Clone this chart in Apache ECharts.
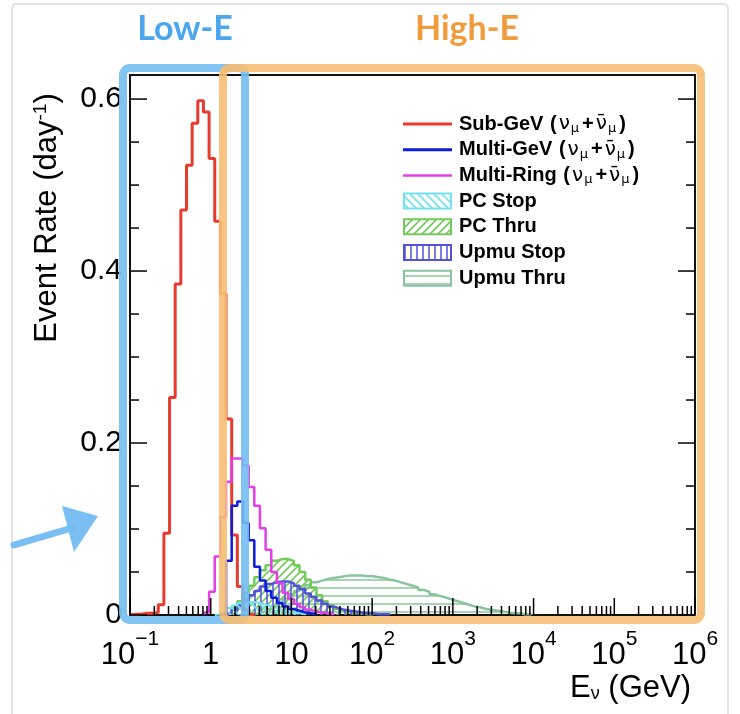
<!DOCTYPE html>
<html><head><meta charset="utf-8">
<script src="https://cdn.jsdelivr.net/npm/echarts@6/dist/echarts.min.js"></script>
<style>html,body{margin:0;padding:0;background:#fff;}#chart{width:740px;height:714px;}</style>
</head><body><div id="chart"></div>
<script>
// ---- axis / binning (log10 of E in GeV) ----
const LOG_MIN = -1, LOG_MAX = 6;
const BIN_W = 0.07;            // 100 log bins between 10^-1 and 10^6
const Y_MAX = 0.628;
const xTickLabels = [['10','\u22121'], ['1',''], ['10',''], ['10','2'], ['10','3'], ['10','4'], ['10','5'], ['10','6']];
const yTickValues = [0, 0.2, 0.4, 0.6];
const yTickLabels = ['0', '0.2', '0.4', '0.6'];

// ---- histograms: first bin index + bin contents (events / day) ----
const subGevStart = 0;
const subGevValues = [0.001,0.001,0.002,0.002,0.003,0.012,0.095,0.253,0.385,0.471,0.523,0.572,0.598,0.585,0.531,0.458,0.374,0.228,0.093,0.033,0.006,0.001];
const multiGevStart = 16;
const multiGevValues = [0.002,0.063,0.127,0.132,0.107,0.087,0.056,0.040,0.028,0.020,0.014,0.010,0.007,0.005,0.003,0.002,0.001];
const multiRingStart = 13;
const multiRingValues = [0.003,0.027,0.068,0.114,0.155,0.182,0.182,0.174,0.149,0.127,0.101,0.076,0.050,0.037,0.026,0.019,0.013,0.009,0.006,0.004,0.003,0.002,0.001];
const pcStopStart = 15;
const pcStopValues = [0.001,0.004,0.008,0.011,0.014,0.015,0.015,0.014,0.012,0.010,0.008,0.006,0.004,0.003,0.002,0.001];
const pcThruStart = 16;
const pcThruValues = [0.001,0.003,0.008,0.016,0.025,0.034,0.044,0.052,0.058,0.063,0.065,0.065,0.063,0.058,0.050,0.041,0.032,0.023,0.016,0.011,0.007,0.005,0.003,0.002,0.002,0.001,0.001];
const upmuStopStart = 17;
const upmuStopValues = [0.002,0.006,0.011,0.017,0.023,0.028,0.033,0.036,0.038,0.039,0.039,0.037,0.034,0.030,0.025,0.021,0.017,0.013,0.010,0.008,0.006,0.005,0.004,0.003,0.002,0.002,0.001,0.001,0.001];
const upmuThruStart = 21;
const upmuThruValues = [0.001,0.002,0.004,0.007,0.010,0.014,0.019,0.024,0.028,0.032,0.035,0.038,0.040,0.042,0.043,0.044,0.045,0.046,0.046,0.046,0.045,0.045,0.044,0.043,0.041,0.040,0.038,0.036,0.034,0.032,0.029,0.027,0.024,0.022,0.020,0.018,0.016,0.014,0.012,0.010,0.009,0.007,0.006,0.005,0.004,0.003,0.002,0.002,0.001,0.001];

const legendNames = ['Sub-GeV', 'Multi-GeV', 'Multi-Ring', 'PC Stop', 'PC Thru', 'Upmu Stop', 'Upmu Thru'];

// ---- styles ----
const FONT = "'Liberation Sans', Arial, Helvetica, sans-serif";
const C = {
  red:'#e63b2e', blue:'#0c1de0', magenta:'#e23fe8', cyan:'#72e3ee',
  green:'#72cb58', upStop:'#5353d6', upThru:'#8cc39f'
};

function hatch(color, kind, s, lw) {
  const c = document.createElement('canvas'); c.width = s; c.height = s;
  const g = c.getContext('2d'); g.strokeStyle = color; g.lineWidth = lw; g.beginPath();
  if (kind === '/') { g.moveTo(0,s); g.lineTo(s,0); g.moveTo(-1,1); g.lineTo(1,-1); g.moveTo(s-1,s+1); g.lineTo(s+1,s-1); }
  else if (kind === '\\') { g.moveTo(0,0); g.lineTo(s,s); g.moveTo(s-1,-1); g.lineTo(s+1,1); g.moveTo(-1,s-1); g.lineTo(1,s+1); }
  else if (kind === '|') { g.moveTo(s/2,0); g.lineTo(s/2,s); }
  else { g.moveTo(0,s/2); g.lineTo(s,s/2); }
  g.stroke();
  return { image: c, repeat: 'repeat' };
}
const P = {
  pcStop: hatch(C.cyan, '\\', 8, 1.6),
  pcThru: hatch(C.green, '/', 8, 1.6),
  upStop: hatch(C.upStop, '|', 6, 1.5),
  upThru: hatch(C.upThru, '-', 8, 1.5)
};

function histPoints(start, values) {
  const pts = [[LOG_MIN + start * BIN_W, 0]];
  values.forEach((v, i) => pts.push([LOG_MIN + (start + i) * BIN_W, v]));
  pts.push([LOG_MIN + (start + values.length) * BIN_W, 0]);
  return pts;
}
function histSeries(name, start, values, color, width, fill, z) {
  const s = { name, type:'line', step:'end', data: histPoints(start, values), symbol:'none',
    lineStyle:{ color, width }, itemStyle:{color}, z, animation:false, silent:true };
  if (fill) s.areaStyle = { color: fill, opacity: 1 };
  return s;
}

// tick positions for the log x axis and the linear y axis
const xMajor = []; for (let n = LOG_MIN; n <= LOG_MAX; n++) xMajor.push([n, 0, 1]);
const xMinor = []; for (let n = LOG_MIN; n < LOG_MAX; n++) for (let m = 2; m <= 9; m++) xMinor.push([n + Math.log10(m), 0, 0]);
const yTicks = []; for (let i = 0; i <= 12; i++) yTicks.push([LOG_MIN, i * 0.05, (i % 4 === 0) ? 1 : 0]);

const chart = echarts.init(document.getElementById('chart'), null, { renderer: 'canvas' });

const legendY0 = 124, legendDY = 25.7;
const legendGraphics = [];
const legendIcons = [
  { line: C.red, w: 3 }, { line: C.blue, w: 3 }, { line: C.magenta, w: 2.5 },
  { box: C.cyan, fill: P.pcStop }, { box: C.green, fill: P.pcThru },
  { box: C.upStop, fill: P.upStop }, { box: C.upThru, fill: P.upThru }
];
const numu = ' {p|(}{g|\u03bd}{s|\u03bc}{p|+}{g|\u03bd\u0304}{s|\u03bc}{p|)}';
const legendTexts = [
  legendNames[0] + numu, legendNames[1] + numu, legendNames[2] + numu,
  legendNames[3], legendNames[4], legendNames[5], legendNames[6]
];
legendIcons.forEach((ic, i) => {
  const y = legendY0 + i * legendDY;
  if (ic.line) legendGraphics.push({ type:'line', shape:{x1:403, y1:y, x2:452, y2:y}, style:{stroke:ic.line, lineWidth:ic.w}, z:100 });
  else legendGraphics.push({ type:'rect', shape:{x:404, y:y-7.5, width:47, height:15}, style:{fill:ic.fill, stroke:ic.box, lineWidth:2}, z:100 });
  legendGraphics.push({ type:'text', x:459, y:y, z:100, style:{ text: legendTexts[i], font:`bold 20px ${FONT}`, fill:'#000', verticalAlign:'middle', align:'left',
    rich:{
      p:{ font:`bold 20px ${FONT}`, fill:'#000', padding:[0,1,0,1] },
      g:{ font:`20px 'DejaVu Sans', ${FONT}`, fill:'#000', padding:[0,0,0,1] },
      s:{ font:`13px 'DejaVu Sans', ${FONT}`, fill:'#000', verticalAlign:'bottom', padding:[9,2,0,1] } } } });
});

const option = {
  backgroundColor: '#fff',
  animation: false,
  grid: { left: 130, right: 45, top: 75, bottom: 99, show: true, borderColor: '#111', borderWidth: 2, backgroundColor: 'transparent' },
  xAxis: {
    type: 'value', min: LOG_MIN, max: LOG_MAX, interval: 1,
    axisLine: { show: false }, axisTick: { show: false }, splitLine: { show: false },
    axisLabel: {
      margin: 14, color: '#000',
      formatter: v => { const t = xTickLabels[Math.round(v - LOG_MIN)]; return t[1] ? `{b|${t[0]}}{s|${t[1]}}` : `{b|${t[0]}}`; },
      rich: { b: { fontSize: 31, fontFamily: FONT, color: '#000', lineHeight: 42, verticalAlign: 'bottom' },
              s: { fontSize: 21, fontFamily: FONT, color: '#000', lineHeight: 21, verticalAlign: 'top' } }
    }
  },
  yAxis: {
    type: 'value', min: 0, max: Y_MAX, interval: 0.2,
    axisLine: { show: false }, axisTick: { show: false }, splitLine: { show: false },
    axisLabel: {
      margin: 8, color: '#000', fontSize: 30, fontFamily: FONT,
      formatter: v => { const i = yTickValues.findIndex(t => Math.abs(t - v) < 1e-6); return i >= 0 ? yTickLabels[i] : ''; }
    }
  },
  series: [
    histSeries('Upmu Thru', upmuThruStart, upmuThruValues, C.upThru, 2.5, P.upThru, 3),
    histSeries('PC Thru', pcThruStart, pcThruValues, C.green, 2.5, P.pcThru, 4),
    histSeries('Upmu Stop', upmuStopStart, upmuStopValues, C.upStop, 2.5, P.upStop, 5),
    histSeries('PC Stop', pcStopStart, pcStopValues, C.cyan, 2, P.pcStop, 6),
    histSeries('Sub-GeV', subGevStart, subGevValues, C.red, 3, null, 7),
    histSeries('Multi-Ring', multiRingStart, multiRingValues, C.magenta, 2.5, null, 8),
    histSeries('Multi-GeV', multiGevStart, multiGevValues, C.blue, 2.5, null, 9),
    {
      type: 'custom', name: 'xticks', data: xMajor.concat(xMinor), clip: false, silent: true, z: 20,
      encode: { x: 0, y: 1 },
      renderItem: (params, api) => {
        const p = api.coord([api.value(0), 0]); const cs = params.coordSys;
        const len = api.value(2) ? 17 : 9;
        return { type: 'line', shape: { x1: p[0], y1: cs.y + cs.height, x2: p[0], y2: cs.y + cs.height - len }, style: { stroke: '#000', lineWidth: 1.5 } };
      }
    },
    {
      type: 'custom', name: 'yticks', data: yTicks, clip: false, silent: true, z: 20,
      encode: { x: 0, y: 1 },
      renderItem: (params, api) => {
        const p = api.coord([LOG_MIN, api.value(1)]); const cs = params.coordSys;
        const len = api.value(2) ? 17 : 9; const st = { stroke: '#000', lineWidth: 1.5 };
        return { type: 'group', children: [
          { type: 'line', shape: { x1: cs.x, y1: p[1], x2: cs.x + len, y2: p[1] }, style: st },
          { type: 'line', shape: { x1: cs.x + cs.width, y1: p[1], x2: cs.x + cs.width - len, y2: p[1] }, style: st } ] };
      }
    }
  ],
  graphic: [
    { type:'rect', shape:{x:12, y:4, width:716, height:740, r:4}, style:{fill:'none', stroke:'#dadada', lineWidth:1.5}, z:1 },
    { type:'text', x:47, y:218, rotation: Math.PI/2, z:100,
      style:{ text:'Event Rate (day{s|-1})', font:`31px ${FONT}`, fill:'#000', align:'center', verticalAlign:'middle',
        rich:{ s:{ font:`19px ${FONT}`, fill:'#000', verticalAlign:'top', padding:[0,0,10,0] } } } },
    { type:'text', x:691, y:688, z:100,
      style:{ text:'E{s|\u03bd} (GeV)', font:`31px ${FONT}`, fill:'#000', align:'right', verticalAlign:'middle',
        rich:{ s:{ font:`18px ${FONT}`, fill:'#000', verticalAlign:'bottom', padding:[12,0,0,0] } } } },
    ...legendGraphics,
    // annotation boxes
    { type:'rect', shape:{x:123, y:68, width:122, height:552, r:7}, style:{fill:'none', stroke:'rgba(115,188,242,0.9)', lineWidth:8}, z:110 },
    { type:'rect', shape:{x:223, y:68, width:478, height:552, r:7}, style:{fill:'none', stroke:'rgba(246,190,115,0.9)', lineWidth:8}, z:111 },
    { type:'text', x:185, y:29, z:120, style:{ text:'Low-E', font:`bold 34px Lato, 'Open Sans', sans-serif`, fill:'#4ba6ee', align:'center', verticalAlign:'middle' } },
    { type:'text', x:467, y:29, z:120, style:{ text:'High-E', font:`bold 34px Lato, 'Open Sans', sans-serif`, fill:'#f09b3c', align:'center', verticalAlign:'middle' } },
    // arrow
    { type:'polyline', shape:{ points:[[14,545],[72,528]] }, style:{ stroke:'rgba(115,188,242,0.95)', lineWidth:7, lineCap:'round' }, z:110 },
    { type:'polygon', shape:{ points:[[62,506],[98,516],[74,552]] }, style:{ fill:'rgba(115,188,242,0.95)' }, z:110 }
  ]
};
chart.setOption(option);
</script>
</body></html>
